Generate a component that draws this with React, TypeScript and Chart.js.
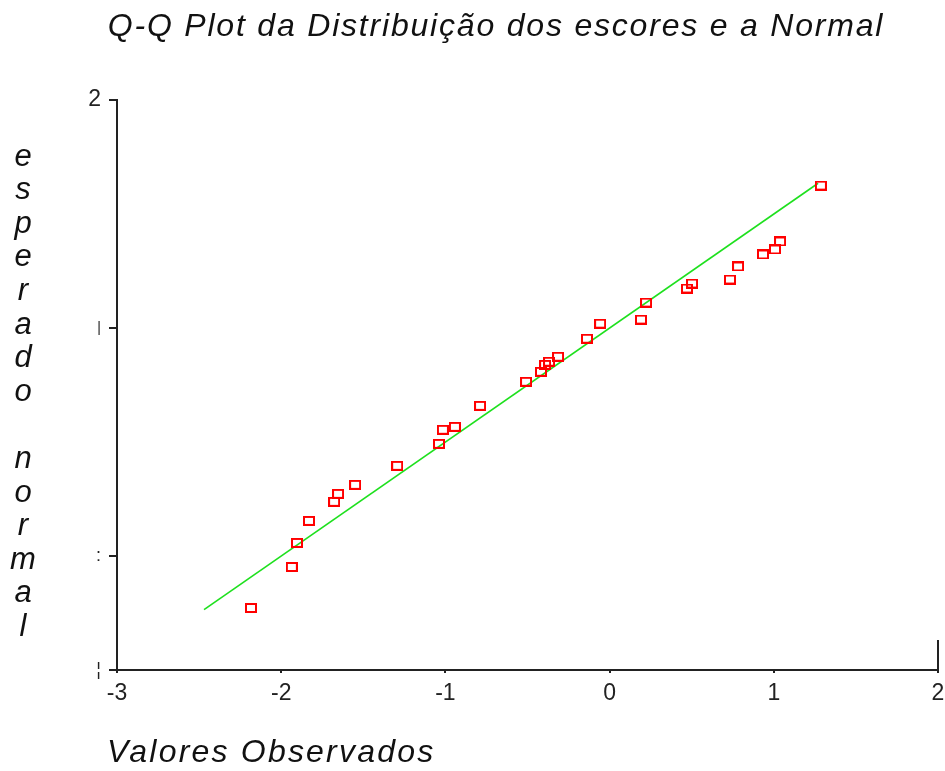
import React, { useEffect, useRef } from "react";
import { Chart, registerables } from "chart.js";

Chart.register(...registerables);

const chartTitle = "Q-Q Plot da Distribuição dos escores e a Normal";
const xAxisTitle = "Valores Observados";
const yAxisTitle = "esperado normal";

const observedValues = [
  -2.184, -1.935, -1.904, -1.831, -1.678, -1.654, -1.55, -1.294, -1.039, -1.015,
  -0.942, -0.789, -0.509, -0.418, -0.393, -0.369, -0.314, -0.138, -0.058, 0.191,
  0.222, 0.471, 0.502, 0.733, 0.782, 0.934, 1.007, 1.038, 1.287,
];
const expectedNormal = [
  -2.456, -2.096, -1.885, -1.692, -1.525, -1.455, -1.376, -1.209, -1.016, -0.893,
  -0.867, -0.683, -0.472, -0.384, -0.323, -0.296, -0.252, -0.094, 0.038, 0.074,
  0.223, 0.346, 0.39, 0.425, 0.54, 0.645, 0.689, 0.759, 1.249,
];
const referenceLineX = [-2.47, 1.27];
const referenceLineY = [-2.47, 1.27];

const xTickValues = [-3, -2, -1, 0, 1, 2];
const xTickLabels = ["-3", "-2", "-1", "0", "1", "2"];
const yTickValues = [2, 0, -2, -3];
const yTickLabels = ["2", "|", ":", "¦"];

const FONT = "'Liberation Sans', Arial, sans-serif";

function makeMarker(): HTMLCanvasElement {
  const c = document.createElement("canvas");
  c.width = 12;
  c.height = 10;
  const g = c.getContext("2d")!;
  g.strokeStyle = "#ff0000";
  g.lineWidth = 2;
  g.strokeRect(1, 1, 10, 8);
  return c;
}

const textPlugin = {
  id: "qqTexts",
  afterDraw(chart: any) {
    const ctx = chart.ctx as any;
    ctx.save();
    ctx.fillStyle = "#111";
    ctx.font = `italic 32px ${FONT}`;
    ctx.letterSpacing = "1.8px";
    ctx.textAlign = "center";
    ctx.textBaseline = "middle";
    ctx.fillText(chartTitle, 496, 27);

    ctx.letterSpacing = "2.2px";
    ctx.textAlign = "left";
    ctx.fillText(xAxisTitle, 107, 753);

    ctx.letterSpacing = "0px";
    ctx.font = `italic 31px ${FONT}`;
    ctx.textAlign = "center";
    const letters = yAxisTitle.split("");
    letters.forEach((ch, i) => {
      ctx.fillText(ch, 23, 157 + i * 33.6);
    });
    ctx.restore();

    // right-end mark of the x axis
    const xs = chart.scales.x;
    const bottom = chart.chartArea.bottom;
    ctx.save();
    ctx.strokeStyle = "#222";
    ctx.lineWidth = 2;
    ctx.beginPath();
    ctx.moveTo(xs.getPixelForValue(2), bottom);
    ctx.lineTo(xs.getPixelForValue(2), bottom - 30);
    ctx.stroke();
    ctx.restore();
  },
};

export default function App() {
  const ref = useRef<HTMLCanvasElement>(null);

  useEffect(() => {
    if (!ref.current) return;
    const marker = makeMarker();
    const chart = new Chart(ref.current, {
      type: "scatter",
      data: {
        datasets: [
          {
            type: "line",
            label: "Normal",
            data: referenceLineX.map((x, i) => ({ x, y: referenceLineY[i] })),
            borderColor: "#1ee01e",
            borderWidth: 1.6,
            pointRadius: 0,
            fill: false,
            order: 2,
          } as any,
          {
            label: "Escores",
            data: observedValues.map((x, i) => ({ x, y: expectedNormal[i] })),
            pointStyle: marker,
            pointRadius: 5,
            order: 1,
          },
        ],
      },
      options: {
        responsive: false,
        animation: false,
        layout: { padding: { top: 100, left: 77, right: 7, bottom: 61 } },
        plugins: {
          legend: { display: false },
          title: { display: false },
          tooltip: { enabled: false },
        },
        scales: {
          x: {
            type: "linear",
            min: -3,
            max: 2,
            afterBuildTicks: (s: any) => {
              s.ticks = xTickValues.map((v) => ({ value: v }));
            },
            afterFit: (s: any) => {
              s.height = 40;
              s.paddingRight = 0;
              s.paddingLeft = 0;
            },
            ticks: {
              autoSkip: false,
              maxRotation: 0,
              padding: 7,
              color: "#222",
              font: { family: FONT, size: 23 },
              callback: (v: any) => {
                const i = xTickValues.indexOf(Number(v));
                return i >= 0 ? xTickLabels[i] : "";
              },
            },
            grid: {
              drawOnChartArea: false,
              drawTicks: true,
              tickLength: 3,
              color: "#222",
              lineWidth: 2,
            },
            border: { display: true, color: "#222", width: 2 },
          },
          y: {
            type: "linear",
            min: -3,
            max: 2,
            afterBuildTicks: (s: any) => {
              s.ticks = yTickValues.map((v) => ({ value: v }));
            },
            afterFit: (s: any) => {
              s.width = 40;
              s.paddingTop = 0;
              s.paddingBottom = 0;
            },
            ticks: {
              autoSkip: false,
              padding: 8,
              color: "#222",
              font: (c: any) => ({ family: FONT, size: c.index === 0 ? 23 : c.index === 1 ? 14 : 18 }),
              callback: (v: any) => {
                const i = yTickValues.indexOf(Number(v));
                return i >= 0 ? yTickLabels[i] : "";
              },
            },
            grid: {
              drawOnChartArea: false,
              drawTicks: true,
              tickLength: 8,
              color: "#222",
              lineWidth: 2,
            },
            border: { display: true, color: "#222", width: 2 },
          },
        },
      },
      plugins: [textPlugin],
    });
    return () => chart.destroy();
  }, []);

  return (
    <div style={{ position: "absolute", left: 0, top: 0, width: 945, height: 771, background: "#fff" }}>
      <canvas ref={ref} width={945} height={771} style={{ display: "block" }} />
    </div>
  );
}
